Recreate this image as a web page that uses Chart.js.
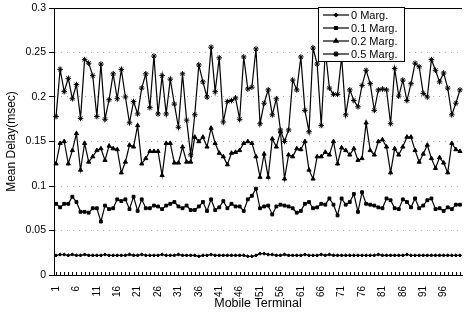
<!DOCTYPE html>
<html lang="en">
<head>
    <meta charset="UTF-8">
    <title>Mean Delay per Mobile Terminal</title>
    <script src="https://cdn.jsdelivr.net/npm/chart.js@4.4.0/dist/chart.umd.min.js"></script>
    <style>
        html, body { margin: 0; padding: 0; background: #fff; }
        #chart { display: block; }
    </style>
</head>
<body>
    <canvas id="chart" width="467" height="312"></canvas>

    <script>
        // terminals 1..100
        const terminals = [];
        for (let i = 1; i <= 100; i++) terminals.push(String(i));
        const xTickLabels = ['1', '6', '11', '16', '21', '26', '31', '36', '41', '46',
                             '51', '56', '61', '66', '71', '76', '81', '86', '91', '96'];
        const yTicks = [0, 0.05, 0.1, 0.15, 0.2, 0.25, 0.3];

        const seriesNames = ['0 Marg.', '0.1 Marg.', '0.2 Marg.', '0.5 Marg.'];

        const marg0 = [
            0.022, 0.023, 0.023, 0.022, 0.023, 0.022, 0.022, 0.023, 0.022, 0.022,
            0.022, 0.022, 0.023, 0.022, 0.022, 0.022, 0.022, 0.022, 0.023, 0.022,
            0.022, 0.023, 0.022, 0.022, 0.022, 0.022, 0.023, 0.022, 0.022, 0.022,
            0.023, 0.022, 0.022, 0.022, 0.022, 0.021, 0.022, 0.022, 0.023, 0.022,
            0.022, 0.022, 0.022, 0.022, 0.022, 0.022, 0.022, 0.021, 0.021, 0.022,
            0.024, 0.024, 0.023, 0.023, 0.022, 0.022, 0.023, 0.022, 0.022, 0.022,
            0.022, 0.023, 0.022, 0.022, 0.022, 0.023, 0.022, 0.023, 0.022, 0.022,
            0.022, 0.022, 0.022, 0.022, 0.022, 0.022, 0.022, 0.022, 0.022, 0.023,
            0.022, 0.022, 0.022, 0.022, 0.022, 0.022, 0.023, 0.022, 0.022, 0.022,
            0.022, 0.022, 0.022, 0.022, 0.022, 0.022, 0.022, 0.022, 0.022, 0.022
        ];
        const marg01 = [
            0.080, 0.076, 0.080, 0.080, 0.088, 0.082, 0.071, 0.071, 0.070, 0.075,
            0.075, 0.060, 0.078, 0.074, 0.075, 0.085, 0.083, 0.085, 0.074, 0.088,
            0.072, 0.085, 0.075, 0.075, 0.078, 0.077, 0.074, 0.078, 0.080, 0.082,
            0.077, 0.075, 0.078, 0.073, 0.073, 0.077, 0.082, 0.072, 0.085, 0.073,
            0.076, 0.083, 0.075, 0.080, 0.077, 0.077, 0.072, 0.085, 0.089, 0.097,
            0.075, 0.077, 0.078, 0.068, 0.077, 0.079, 0.078, 0.077, 0.075, 0.070,
            0.072, 0.080, 0.082, 0.075, 0.076, 0.080, 0.079, 0.086, 0.079, 0.067,
            0.086, 0.079, 0.082, 0.091, 0.071, 0.093, 0.080, 0.079, 0.078, 0.076,
            0.075, 0.086, 0.084, 0.075, 0.074, 0.085, 0.082, 0.076, 0.086, 0.075,
            0.078, 0.084, 0.086, 0.074, 0.075, 0.072, 0.076, 0.074, 0.079, 0.079
        ];
        const marg02 = [
            0.125, 0.148, 0.150, 0.125, 0.140, 0.159, 0.118, 0.148, 0.127, 0.133,
            0.140, 0.142, 0.129, 0.145, 0.142, 0.141, 0.115, 0.127, 0.146, 0.144,
            0.168, 0.125, 0.131, 0.139, 0.139, 0.139, 0.112, 0.148, 0.148, 0.126,
            0.126, 0.144, 0.127, 0.127, 0.155, 0.150, 0.155, 0.144, 0.165, 0.148,
            0.137, 0.133, 0.124, 0.137, 0.138, 0.140, 0.148, 0.150, 0.148, 0.133,
            0.110, 0.136, 0.110, 0.153, 0.144, 0.161, 0.108, 0.135, 0.133, 0.142,
            0.141, 0.150, 0.118, 0.108, 0.133, 0.133, 0.138, 0.135, 0.150, 0.125,
            0.143, 0.140, 0.135, 0.142, 0.129, 0.131, 0.171, 0.140, 0.135, 0.150,
            0.152, 0.144, 0.115, 0.142, 0.135, 0.144, 0.155, 0.155, 0.140, 0.127,
            0.136, 0.146, 0.131, 0.120, 0.132, 0.126, 0.115, 0.148, 0.141, 0.139
        ];
        const marg05 = [
            0.178, 0.231, 0.206, 0.221, 0.198, 0.214, 0.176, 0.242, 0.238, 0.224,
            0.178, 0.237, 0.175, 0.197, 0.226, 0.198, 0.231, 0.200, 0.171, 0.195,
            0.181, 0.210, 0.226, 0.188, 0.246, 0.181, 0.224, 0.181, 0.220, 0.192,
            0.166, 0.226, 0.174, 0.135, 0.180, 0.236, 0.217, 0.200, 0.256, 0.206,
            0.244, 0.172, 0.195, 0.196, 0.199, 0.175, 0.245, 0.209, 0.211, 0.254,
            0.170, 0.193, 0.208, 0.180, 0.198, 0.163, 0.150, 0.163, 0.219, 0.208,
            0.245, 0.185, 0.161, 0.255, 0.237, 0.168, 0.252, 0.210, 0.203, 0.203,
            0.245, 0.180, 0.208, 0.196, 0.189, 0.213, 0.230, 0.215, 0.185, 0.208,
            0.209, 0.208, 0.170, 0.232, 0.201, 0.219, 0.196, 0.215, 0.238, 0.234,
            0.204, 0.200, 0.242, 0.230, 0.217, 0.227, 0.210, 0.180, 0.193, 0.208
        ];

        const FONT = 'Liberation Sans, Arial, sans-serif';

        function series(label, data, style, radius) {
            return {
                label: label,
                data: data,
                borderColor: '#000',
                backgroundColor: '#000',
                borderWidth: 1.2,
                pointStyle: style,
                pointRadius: radius,
                pointBorderWidth: 1,
                tension: 0
            };
        }

        // small tick marks inside the plot along the bottom, plus the top frame line
        const frame = {
            id: 'frame',
            afterDatasetsDraw(chart) {
                const { ctx, chartArea } = chart;
                const xs = chart.scales.x;
                ctx.save();
                ctx.strokeStyle = '#000';
                ctx.lineWidth = 1;
                ctx.beginPath();
                terminals.forEach((t, i) => {
                    const px = Math.round(xs.getPixelForValue(i)) + 0.5;
                    ctx.moveTo(px, chartArea.bottom);
                    ctx.lineTo(px, chartArea.bottom - 3);
                });
                ctx.moveTo(chartArea.left, chartArea.top + 0.5);
                ctx.lineTo(chartArea.right, chartArea.top + 0.5);
                ctx.stroke();
                ctx.restore();
            }
        };

        // boxed legend sitting in the top right of the plot
        const boxLegend = {
            id: 'boxLegend',
            afterDraw(chart) {
                const ctx = chart.ctx;
                const x = 318, y = 7, w = 86, h = 54;
                ctx.save();
                ctx.fillStyle = '#fff';
                ctx.fillRect(x, y, w, h);
                ctx.strokeStyle = '#000';
                ctx.lineWidth = 1;
                ctx.strokeRect(x + 0.5, y + 0.5, w, h);
                ctx.font = '11px ' + FONT;
                ctx.textBaseline = 'middle';
                chart.data.datasets.forEach((ds, i) => {
                    const cy = y + 8 + i * 13;
                    ctx.strokeStyle = '#000';
                    ctx.fillStyle = '#000';
                    ctx.lineWidth = 1.2;
                    ctx.beginPath();
                    ctx.moveTo(x + 5, cy);
                    ctx.lineTo(x + 31, cy);
                    ctx.stroke();
                    Chart.helpers.drawPoint(ctx, {
                        pointStyle: ds.pointStyle,
                        radius: ds.pointRadius,
                        rotation: 0,
                        borderWidth: 1
                    }, x + 18, cy);
                    ctx.fillText(ds.label, x + 33, cy + 0.5);
                });
                ctx.restore();
            }
        };

        new Chart(document.getElementById('chart'), {
            type: 'line',
            data: {
                labels: terminals,
                datasets: [
                    series(seriesNames[0], marg0, 'rectRot', 1.6),
                    series(seriesNames[1], marg01, 'rect', 2),
                    series(seriesNames[2], marg02, 'triangle', 2.4),
                    series(seriesNames[3], marg05, 'star', 2.8)
                ]
            },
            options: {
                responsive: false,
                animation: false,
                devicePixelRatio: 1,
                layout: { padding: { top: 8, right: 1, left: 0, bottom: 0 } },
                plugins: {
                    legend: { display: false },
                    tooltip: { enabled: false }
                },
                scales: {
                    x: {
                        type: 'category',
                        offset: true,
                        grid: { display: false },
                        border: { display: true, color: '#000', width: 1 },
                        ticks: {
                            autoSkip: false,
                            minRotation: 90,
                            maxRotation: 90,
                            padding: 3,
                            color: '#000',
                            font: { family: FONT, size: 10 },
                            callback: function (v, i) {
                                const lab = terminals[i];
                                return xTickLabels.includes(lab) ? lab : '';
                            }
                        },
                        title: {
                            display: true,
                            text: 'Mobile Terminal',
                            color: '#000',
                            font: { family: FONT, size: 12.5 },
                            padding: { top: 0, bottom: 1 }
                        },
                        afterFit: s => {
                            s.height = 37;
                            s.paddingLeft = 0;
                            s.paddingRight = 0;
                        }
                    },
                    y: {
                        min: 0,
                        max: 0.3,
                        afterBuildTicks: s => { s.ticks = yTicks.map(v => ({ value: v })); },
                        grid: {
                            color: ctx => (ctx.tick && ctx.tick.value > 0 && ctx.tick.value < 0.3) ? '#aaa' : 'rgba(0,0,0,0)',
                            lineWidth: 1,
                            tickLength: 5,
                            tickColor: '#000',
                            tickBorderDash: []
                        },
                        border: { display: true, color: '#000', width: 1, dash: [1, 5] },
                        ticks: {
                            color: '#000',
                            padding: 3,
                            font: { family: FONT, size: 10.5 },
                            callback: v => String(+v.toFixed(2))
                        },
                        title: {
                            display: true,
                            text: 'Mean Delay(msec)',
                            color: '#000',
                            font: { family: FONT, size: 12 },
                            padding: { top: 4, bottom: 0 }
                        },
                        afterFit: s => {
                            s.width = 54;
                            s.paddingTop = 0;
                            s.paddingBottom = 0;
                        }
                    }
                }
            },
            plugins: [frame, boxLegend]
        });
    </script>
</body>
</html>
